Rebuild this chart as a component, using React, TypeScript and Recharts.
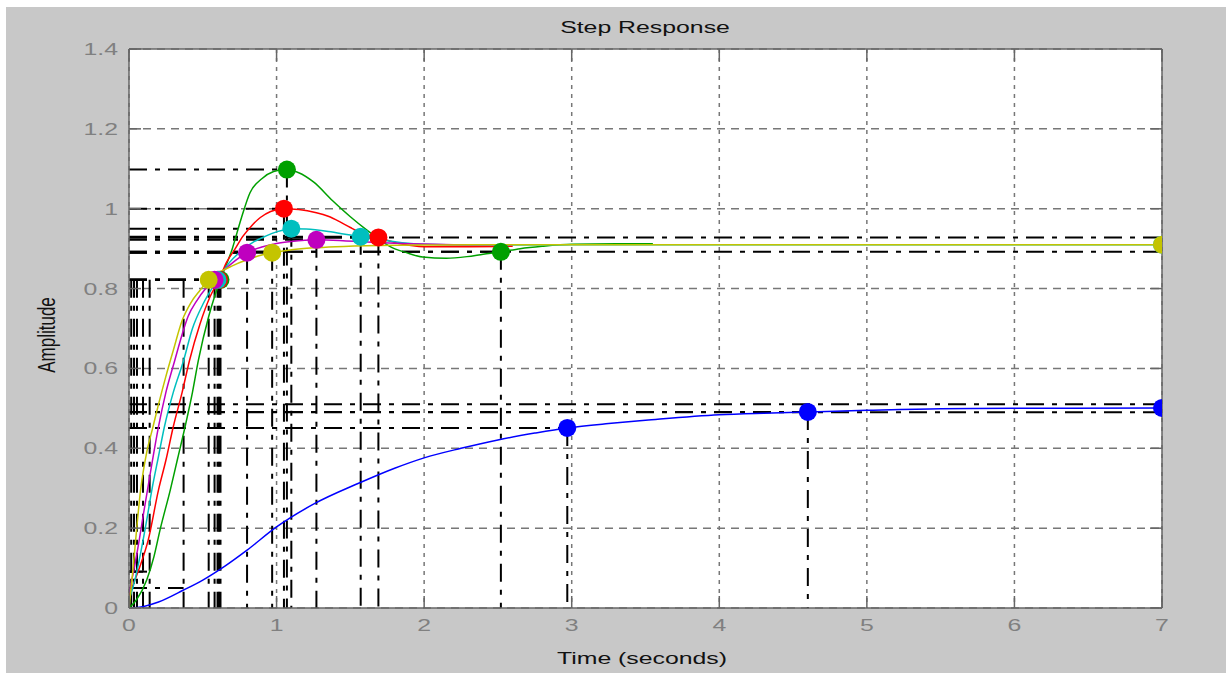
import { ComposedChart, Line, Scatter, XAxis, YAxis, CartesianGrid } from 'recharts';

const timeTicks = [0, 1, 2, 3, 4, 5, 6, 7];
const ampTicks = [0, 0.2, 0.4, 0.6, 0.8, 1, 1.2, 1.4];

// step responses
const blueT = [0, 0.1, 0.2, 0.37, 0.5, 0.65, 0.8, 1.0, 1.25, 1.56, 1.8, 2.0, 2.25, 2.5, 2.75, 2.97, 3.25, 3.5, 4.0, 4.3, 4.6, 5.0, 5.5, 6.0, 7.0];
const blueA = [0, 0.004, 0.015, 0.045, 0.07, 0.105, 0.145, 0.203, 0.26, 0.313, 0.35, 0.376, 0.4, 0.421, 0.438, 0.451, 0.462, 0.47, 0.484, 0.488, 0.491, 0.495, 0.499, 0.5, 0.501];

const greenT = [0, 0.05, 0.12, 0.17, 0.21, 0.28, 0.33, 0.38, 0.43, 0.47, 0.54, 0.58, 0.62, 0.7, 0.76, 0.82, 0.9, 0.98, 1.06, 1.15, 1.25, 1.38, 1.5, 1.61, 1.7, 1.77, 1.88, 1.99, 2.15, 2.29, 2.4, 2.52, 2.65, 2.8, 3.0, 3.3, 3.55];
const greenA = [0, 0.02, 0.07, 0.13, 0.195, 0.296, 0.375, 0.454, 0.54, 0.62, 0.73, 0.78, 0.822, 0.9, 0.975, 1.04, 1.075, 1.093, 1.098, 1.09, 1.067, 1.02, 0.98, 0.947, 0.922, 0.905, 0.89, 0.879, 0.876, 0.88, 0.886, 0.892, 0.9, 0.906, 0.911, 0.912, 0.912];

const redT = [0, 0.04, 0.08, 0.13, 0.2, 0.25, 0.3, 0.36, 0.41, 0.48, 0.55, 0.61, 0.66, 0.72, 0.77, 0.83, 0.89, 0.96, 1.04, 1.15, 1.27, 1.35, 1.43, 1.5, 1.56, 1.69, 1.84, 2.0, 2.3, 2.6];
const redA = [0.03, 0.07, 0.11, 0.17, 0.296, 0.37, 0.454, 0.54, 0.62, 0.71, 0.78, 0.822, 0.865, 0.9, 0.93, 0.957, 0.978, 0.993, 1.0, 0.998, 0.99, 0.981, 0.967, 0.953, 0.942, 0.928, 0.912, 0.905, 0.905, 0.906];

const cyanT = [0, 0.04, 0.08, 0.12, 0.155, 0.2, 0.24, 0.3, 0.37, 0.43, 0.5, 0.6, 0.68, 0.77, 0.85, 0.93, 1.0, 1.1, 1.2, 1.35, 1.5, 1.57, 1.7, 1.85, 2.0, 2.3, 3, 4, 5, 6, 7];
const cyanA = [0.02, 0.07, 0.14, 0.22, 0.296, 0.38, 0.454, 0.54, 0.62, 0.7, 0.76, 0.822, 0.865, 0.897, 0.918, 0.932, 0.942, 0.95, 0.949, 0.943, 0.934, 0.93, 0.922, 0.915, 0.911, 0.909, 0.91, 0.91, 0.91, 0.91, 0.91];

const magT = [0, 0.03, 0.06, 0.1, 0.15, 0.2, 0.25, 0.31, 0.36, 0.4, 0.46, 0.52, 0.58, 0.65, 0.72, 0.8, 0.9, 1.0, 1.1, 1.27, 1.45, 1.65, 1.9, 2.2, 2.6];
const magA = [0.04, 0.09, 0.15, 0.24, 0.35, 0.454, 0.54, 0.62, 0.685, 0.73, 0.77, 0.8, 0.822, 0.848, 0.87, 0.89, 0.904, 0.913, 0.918, 0.922, 0.92, 0.916, 0.912, 0.91, 0.91];

const yelT = [0, 0.02, 0.04, 0.08, 0.12, 0.16, 0.2, 0.25, 0.3, 0.36, 0.42, 0.48, 0.54, 0.6, 0.7, 0.8, 0.9, 0.97, 1.1, 1.25, 1.4, 1.7, 2.0, 2.5, 3, 4, 5, 6, 7];
const yelA = [0, 0.07, 0.15, 0.3, 0.39, 0.45, 0.51, 0.58, 0.645, 0.72, 0.765, 0.795, 0.822, 0.838, 0.857, 0.872, 0.884, 0.89, 0.897, 0.902, 0.905, 0.908, 0.909, 0.91, 0.91, 0.91, 0.91, 0.91, 0.91];

// characteristic points (rise time end, peak, settling, steady state)
const blueMarkT = [2.97, 4.6, 7];
const blueMarkA = [0.451, 0.491, 0.501];
const greenMarkT = [0.62, 1.07, 2.52];
const greenMarkA = [0.822, 1.098, 0.892];
const redMarkT = [0.61, 1.05, 1.69];
const redMarkA = [0.822, 1.0, 0.928];
const cyanMarkT = [0.6, 1.1, 1.57, 7];
const cyanMarkA = [0.822, 0.95, 0.93, 0.91];
const magMarkT = [0.58, 0.8, 1.27];
const magMarkA = [0.822, 0.89, 0.922];
const yelMarkT = [0.54, 0.97, 7];
const yelMarkA = [0.822, 0.89, 0.91];

// rise time start points (10%) and the level their guides reach up to
const riseStartT = [0.37, 0.14, 0.095, 0.054, 0.034, 0.015];
const riseStartA = [0.05, 0.091, 0.091, 0.091, 0.091, 0.091];
const riseTop = 0.822;

// settling bands
const fullWidthLevels = [0.928, 0.892, 0.51, 0.49];

const zip = (t: number[], a: number[]) => t.map((v, i) => ({ t: v, a: a[i] }));

const series = [
  { name: 'blue', color: '#0000ff', data: zip(blueT, blueA), marks: zip(blueMarkT, blueMarkA) },
  { name: 'green', color: '#00a000', data: zip(greenT, greenA), marks: zip(greenMarkT, greenMarkA) },
  { name: 'red', color: '#ff0000', data: zip(redT, redA), marks: zip(redMarkT, redMarkA) },
  { name: 'cyan', color: '#00bfbf', data: zip(cyanT, cyanA), marks: zip(cyanMarkT, cyanMarkA) },
  { name: 'magenta', color: '#bf00bf', data: zip(magT, magA), marks: zip(magMarkT, magMarkA) },
  { name: 'yellow', color: '#c4c400', data: zip(yelT, yelA), marks: zip(yelMarkT, yelMarkA) },
];

const SX = 1.46;
const FONT = '"Liberation Sans", Arial, sans-serif';
const DASHDOT = '18 8 5 8';

type Pt = { t: number; a: number };

// black dash-dot guides, drawn as two-point lines so they sit under the curves
const guides: Pt[][] = [];
series.forEach((s) => {
  s.marks.forEach((m) => {
    if (m.t >= 7) return;
    guides.push([{ t: 0, a: m.a }, { t: m.t, a: m.a }]);
    guides.push([{ t: m.t, a: m.a }, { t: m.t, a: 0 }]);
  });
});
zip(riseStartT, riseStartA).forEach((p) => {
  guides.push([{ t: 0, a: p.a }, { t: p.t, a: p.a }]);
  guides.push([{ t: p.t, a: riseTop }, { t: p.t, a: 0 }]);
});
fullWidthLevels.forEach((v) => {
  guides.push([{ t: 0, a: v }, { t: 7, a: v }]);
});

function YTick({ x, y, payload }: any) {
  return (
    <text
      transform={`translate(${x},${y}) scale(${SX},1)`}
      textAnchor="end"
      dy="0.35em"
      fill="#808080"
      fontSize={17}
      fontFamily={FONT}
    >
      {payload.value}
    </text>
  );
}

function XTick({ x, y, payload }: any) {
  return (
    <text
      transform={`translate(${x},${y}) scale(${SX},1)`}
      textAnchor="middle"
      dy="0.35em"
      fill="#808080"
      fontSize={17}
      fontFamily={FONT}
    >
      {payload.value}
    </text>
  );
}

const blank = () => '';

export default function App() {
  return (
    <div style={{ position: 'absolute', left: 0, top: 0, width: 1232, height: 673, background: '#fff' }}>
      <div style={{ position: 'absolute', left: 6, top: 7, width: 1220, height: 666, background: '#c8c8c8' }} />
      <div style={{ position: 'absolute', left: 0, top: 0 }}>
        <ComposedChart width={1232} height={673} margin={{ top: 48, right: 69, bottom: 35, left: 69 }}>
          <CartesianGrid fill="#fff" vertical={false} stroke="#777" strokeWidth={1.5} strokeDasharray="8 6" horizontalValues={ampTicks} />
          <CartesianGrid vertical horizontal={false} stroke="#777" strokeWidth={1.5} strokeDasharray="4 5" verticalValues={timeTicks} />
          <XAxis
            dataKey="t"
            type="number"
            domain={[0, 7]}
            ticks={timeTicks}
            allowDataOverflow
            height={30}
            stroke="#666"
            strokeWidth={1.5}
            tickSize={-12}
            tickMargin={29}
            tick={<XTick />}
          />
          <XAxis
            xAxisId="top"
            orientation="top"
            dataKey="t"
            type="number"
            domain={[0, 7]}
            ticks={timeTicks}
            allowDataOverflow
            height={1}
            stroke="#666"
            strokeWidth={1.5}
            tickSize={-12}
            tickFormatter={blank}
          />
          <YAxis
            type="number"
            domain={[0, 1.4]}
            ticks={ampTicks}
            allowDataOverflow
            width={60}
            stroke="#666"
            strokeWidth={1.5}
            tickSize={-12}
            tickMargin={23}
            tick={<YTick />}
          />
          <YAxis
            yAxisId="right"
            orientation="right"
            type="number"
            domain={[0, 1.4]}
            ticks={ampTicks}
            allowDataOverflow
            width={1}
            stroke="#666"
            strokeWidth={1.5}
            tickSize={-12}
            tickFormatter={blank}
          />
          {guides.map((g, i) => (
            <Line
              key={`guide-${i}`}
              data={g}
              dataKey="a"
              type="linear"
              stroke="#000"
              strokeWidth={2}
              strokeDasharray={DASHDOT}
              dot={false}
              activeDot={false}
              legendType="none"
              isAnimationActive={false}
            />
          ))}
          {series.map((s) => (
            <Line
              key={s.name}
              data={s.data}
              dataKey="a"
              type="monotone"
              stroke={s.color}
              strokeWidth={1.5}
              dot={false}
              activeDot={false}
              isAnimationActive={false}
            />
          ))}
          {series.map((s) => (
            <Scatter
              key={`${s.name}-marks`}
              data={s.marks}
              dataKey="a"
              fill={s.color}
              isAnimationActive={false}
              shape={(p: any) => <circle cx={p.cx} cy={p.cy} r={9} fill={s.color} />}
            />
          ))}
        </ComposedChart>
      </div>
      <svg width={1232} height={673} style={{ position: 'absolute', left: 0, top: 0, pointerEvents: 'none' }}>
        <text transform={`translate(645,27) scale(${SX},1)`} textAnchor="middle" dy="0.35em" fontSize={17} fontFamily={FONT} fill="#111">
          Step Response
        </text>
        <text transform={`translate(642,658) scale(${SX},1)`} textAnchor="middle" dy="0.35em" fontSize={17} fontFamily={FONT} fill="#111">
          Time (seconds)
        </text>
        <text transform={`translate(46,335) scale(${SX},1) rotate(-90)`} textAnchor="middle" dy="0.35em" fontSize={17} fontFamily={FONT} fill="#111">
          Amplitude
        </text>
      </svg>
    </div>
  );
}
